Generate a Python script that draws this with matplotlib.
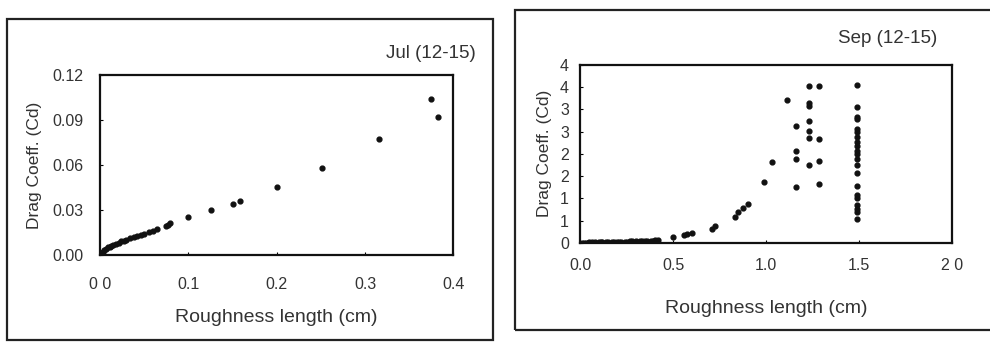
import numpy as np
import matplotlib.pyplot as plt
from matplotlib.patches import Rectangle
from matplotlib.ticker import FuncFormatter

plt.rcParams['font.family'] = ['Liberation Sans', 'DejaVu Sans']

# Jul (12-15): roughness length (cm) vs drag coefficient
jul_z0 = [0.001, 0.002, 0.003, 0.005, 0.007, 0.009, 0.011, 0.013, 0.015, 0.018,
          0.021, 0.024, 0.027, 0.030, 0.034, 0.038, 0.042, 0.046, 0.050, 0.055,
          0.060, 0.064, 0.075, 0.077, 0.079, 0.100, 0.126, 0.150, 0.159, 0.200,
          0.251, 0.316, 0.375, 0.383]
jul_cd = [0.001, 0.0015, 0.002, 0.003, 0.004, 0.005, 0.0055, 0.006, 0.0065, 0.0075,
          0.008, 0.009, 0.0095, 0.010, 0.011, 0.012, 0.0125, 0.013, 0.014, 0.015,
          0.016, 0.017, 0.019, 0.020, 0.021, 0.025, 0.030, 0.034, 0.036, 0.045,
          0.058, 0.077, 0.104, 0.092]

# Sep (12-15)
sep_z0 = [0.01, 0.02, 0.03, 0.04, 0.05, 0.065, 0.08, 0.10, 0.11, 0.12, 0.14, 0.15,
          0.17, 0.18, 0.20, 0.21, 0.22, 0.24, 0.25, 0.27, 0.28, 0.30, 0.32, 0.33,
          0.35, 0.36, 0.38, 0.39, 0.40, 0.42, 0.50, 0.56, 0.576, 0.60, 0.707, 0.725,
          0.833, 0.85, 0.877, 0.903, 0.988, 1.033, 1.11,
          1.16, 1.16, 1.16, 1.16,
          1.232, 1.232, 1.232, 1.232, 1.232, 1.232, 1.232,
          1.283, 1.283, 1.283, 1.283,
          1.49, 1.49, 1.49, 1.49, 1.49, 1.49, 1.49, 1.49, 1.49, 1.49, 1.49,
          1.49, 1.49, 1.49, 1.49, 1.49, 1.49, 1.49, 1.49, 1.49, 1.49]
sep_cd = [0.0, 0.0, 0.005, 0.005, 0.01, 0.01, 0.01, 0.015, 0.015, 0.015, 0.02, 0.02,
          0.02, 0.02, 0.025, 0.025, 0.03, 0.03, 0.03, 0.035, 0.035, 0.04, 0.04, 0.04,
          0.045, 0.045, 0.05, 0.05, 0.055, 0.07, 0.13, 0.17, 0.19, 0.22, 0.32, 0.37,
          0.59, 0.69, 0.78, 0.87, 1.36, 1.81, 3.2,
          2.63, 2.06, 1.88, 1.25,
          3.53, 3.15, 3.08, 2.74, 2.52, 2.36, 1.75,
          3.53, 2.34, 1.84, 1.32,
          3.55, 3.06, 2.83, 2.79, 2.56, 2.49, 2.37, 2.26, 2.18, 2.07,
          1.99, 1.88, 1.76, 1.57, 1.27, 1.08, 1.00, 0.85, 0.77, 0.70, 0.54]

jul_xticks = [0.0, 0.1, 0.2, 0.3, 0.4]
jul_xlabels = ['0 0', '0.1', '0.2', '0.3', '0.4']
jul_yticks = [0.0, 0.03, 0.06, 0.09, 0.12]
sep_xticks = [0.0, 0.5, 1.0, 1.5, 2.0]
sep_xlabels = ['0.0', '0.5', '1.0', '1.5', '2 0']
sep_yticks = [0, 0.5, 1, 1.5, 2, 2.5, 3, 3.5, 4]

fig = plt.figure(figsize=(9.9, 3.45), dpi=100)

# outer frames of the two panels
fig.patches.append(Rectangle((0.007, 0.014), 0.491, 0.931, transform=fig.transFigure,
                             fill=False, lw=1.6, ec='#222222'))
fig.patches.append(Rectangle((0.52, 0.043), 0.5, 0.928, transform=fig.transFigure,
                             fill=False, lw=1.6, ec='#222222'))

txt = '#333333'

ax1 = fig.add_axes([0.101, 0.261, 0.357, 0.522])
ax1.scatter(jul_z0, jul_cd, s=12, c='#111111', zorder=3)
ax1.set_xlim(0, 0.4)
ax1.set_ylim(0, 0.12)
ax1.set_xticks(jul_xticks)
ax1.set_xticklabels(jul_xlabels)
ax1.set_yticks(jul_yticks)
ax1.yaxis.set_major_formatter(FuncFormatter(lambda v, p: '%.2f' % v))
ax1.set_xlabel('Roughness length (cm)', fontsize=14, color=txt, labelpad=12)
ax1.set_ylabel('Drag Coeff. (Cd)', fontsize=12.5, color=txt, labelpad=7)
ax1.text(1.062, 1.12, 'Jul (12-15)', transform=ax1.transAxes, ha='right', va='center',
         fontsize=13.5, color=txt)
ax1.tick_params(axis='x', pad=16)
ax1.tick_params(axis='y', pad=12)

ax2 = fig.add_axes([0.586, 0.296, 0.376, 0.516])
ax2.scatter(sep_z0, sep_cd, s=12, c='#111111', zorder=3)
ax2.set_xlim(0, 2.0)
ax2.set_ylim(0, 4)
ax2.set_xticks(sep_xticks)
ax2.set_xticklabels(sep_xlabels)
ax2.set_yticks(sep_yticks)
# labels rounded half up, as in the original
ax2.yaxis.set_major_formatter(FuncFormatter(lambda v, p: '%d' % int(np.floor(v + 0.5))))
ax2.set_xlabel('Roughness length (cm)', fontsize=14, color=txt, labelpad=19)
ax2.set_ylabel('Drag Coeff. (Cd)', fontsize=12.5, color=txt, labelpad=6)
ax2.text(0.96, 1.15, 'Sep (12-15)', transform=ax2.transAxes, ha='right', va='center',
         fontsize=13.5, color=txt)
ax2.tick_params(axis='x', pad=11)
ax2.tick_params(axis='y', pad=8)

for ax in (ax1, ax2):
    for s in ax.spines.values():
        s.set_linewidth(1.6)
        s.set_color('#111111')
    ax.tick_params(direction='in', length=2, labelsize=11.5, labelcolor=txt)

fig.savefig('out.png', dpi=100, facecolor='white')
